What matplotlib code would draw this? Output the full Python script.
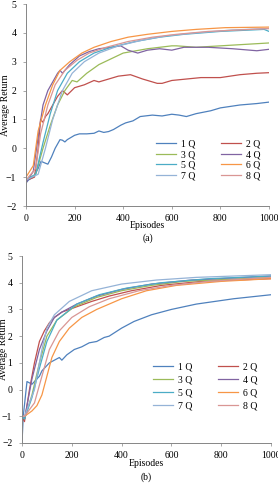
import matplotlib.pyplot as plt

plt.rcParams['font.family'] = ['Liberation Serif', 'DejaVu Serif']

labels = ['1 Q', '2 Q', '3 Q', '4 Q', '5 Q', '6 Q', '7 Q', '8 Q']
colors = ['#4F81BD', '#C0504D', '#9BBB59', '#8064A2', '#4BACC6', '#F79646', '#95B3D7', '#D99694']

# ---- panel (a) ----
a_ep = [
    [0, 10, 30, 50, 62, 75, 90, 105, 120, 140, 150, 160, 170, 180, 200, 220, 250, 280, 300, 320, 340, 360, 390, 410, 440, 470, 520, 560, 600, 630, 660, 700, 760, 800, 880, 950, 1000],
    [0, 20, 35, 50, 60, 70, 80, 90, 110, 130, 150, 170, 200, 240, 280, 300, 340, 380, 430, 480, 540, 560, 600, 660, 720, 800, 880, 950, 1000],
    [0, 40, 70, 100, 130, 160, 190, 210, 250, 300, 350, 400, 500, 600, 620, 700, 800, 900, 1000],
    [0, 15, 30, 50, 70, 90, 110, 130, 140, 150, 180, 220, 260, 300, 350, 390, 420, 460, 500, 550, 600, 650, 750, 850, 950, 1000],
    [0, 40, 70, 100, 130, 170, 220, 280, 350, 450, 550, 650, 800, 980, 1000],
    [0, 30, 50, 80, 110, 140, 180, 230, 280, 350, 420, 500, 600, 700, 800, 820, 1000],
    [0, 50, 80, 110, 150, 190, 240, 300, 380, 480, 580, 700, 850, 1000],
    [0, 40, 60, 90, 120, 160, 210, 260, 330, 420, 520, 620, 750, 1000],
]
a_ret = [
    [-1.2, -1.1, -1.0, -0.7, -0.45, -0.5, -0.55, -0.3, 0.0, 0.3, 0.28, 0.22, 0.3, 0.35, 0.45, 0.5, 0.5, 0.52, 0.6, 0.55, 0.58, 0.65, 0.8, 0.88, 0.95, 1.1, 1.15, 1.12, 1.18, 1.15, 1.1, 1.2, 1.3, 1.4, 1.5, 1.55, 1.6],
    [-1.1, -1.05, -1.0, 0.0, 1.0, 0.9, 1.1, 1.2, 1.5, 1.8, 2.0, 1.85, 2.1, 2.2, 2.35, 2.3, 2.4, 2.5, 2.55, 2.4, 2.25, 2.25, 2.35, 2.4, 2.45, 2.45, 2.55, 2.6, 2.62],
    [-1.1, -0.9, 0.0, 0.8, 1.5, 2.0, 2.35, 2.3, 2.6, 2.9, 3.1, 3.3, 3.45, 3.55, 3.55, 3.5, 3.55, 3.6, 3.65],
    [-1.2, -1.0, -0.8, 0.4, 1.5, 2.0, 2.3, 2.6, 2.7, 2.6, 2.9, 3.2, 3.35, 3.45, 3.5, 3.55, 3.4, 3.3, 3.4, 3.45, 3.4, 3.5, 3.5, 3.45, 3.38, 3.43],
    [-1.1, -0.9, 0.2, 1.2, 2.0, 2.6, 3.0, 3.3, 3.5, 3.7, 3.85, 3.95, 4.05, 4.12, 4.05],
    [-1.0, -0.6, 0.6, 1.5, 2.2, 2.7, 3.0, 3.3, 3.5, 3.7, 3.85, 3.95, 4.05, 4.12, 4.17, 4.18, 4.2],
    [-1.1, -0.9, 0.0, 1.0, 2.0, 2.6, 3.0, 3.3, 3.55, 3.75, 3.9, 4.0, 4.1, 4.15],
    [-1.1, -0.7, 0.5, 1.5, 2.2, 2.7, 3.05, 3.3, 3.5, 3.7, 3.85, 3.95, 4.05, 4.15],
]

# ---- panel (b) ----
b_ep = [
    [0, 5, 20, 40, 50, 70, 80, 100, 110, 130, 150, 160, 180, 210, 240, 270, 300, 330, 350, 400, 450, 520, 600, 700, 850, 1000],
    [0, 10, 30, 50, 70, 90, 110, 130, 160, 220, 280, 350, 440, 560, 720, 1000],
    [0, 10, 40, 70, 100, 140, 210, 300, 400, 520, 650, 1000],
    [0, 10, 40, 70, 100, 130, 160, 220, 300, 400, 520, 680, 1000],
    [0, 10, 40, 70, 100, 140, 220, 310, 420, 560, 750, 1000],
    [0, 10, 40, 60, 80, 100, 120, 150, 190, 240, 300, 400, 500, 620, 800, 1000],
    [0, 10, 50, 80, 100, 130, 190, 280, 400, 540, 700, 1000],
    [0, 10, 50, 80, 110, 150, 200, 270, 350, 470, 600, 750, 1000],
]
b_ret = [
    [-2.0, -1.0, 0.3, 0.2, 0.3, 0.5, 0.7, 0.9, 1.0, 1.1, 1.2, 1.1, 1.3, 1.5, 1.6, 1.75, 1.8, 1.95, 2.0, 2.3, 2.55, 2.8, 3.0, 3.2, 3.4, 3.55],
    [-1.0, -1.2, 0.0, 1.0, 1.8, 2.2, 2.5, 2.7, 2.9, 3.1, 3.3, 3.5, 3.7, 3.9, 4.05, 4.15],
    [-1.0, -1.1, -0.2, 1.0, 2.0, 2.6, 3.1, 3.45, 3.7, 3.9, 4.05, 4.2],
    [-1.0, -1.1, 0.4, 1.5, 2.2, 2.7, 2.9, 3.2, 3.5, 3.75, 3.95, 4.1, 4.25],
    [-1.0, -1.1, -0.3, 0.8, 1.8, 2.6, 3.2, 3.55, 3.8, 4.0, 4.15, 4.25],
    [-1.0, -1.0, -0.8, -0.6, -0.2, 0.5, 1.2, 1.8, 2.3, 2.7, 3.0, 3.4, 3.7, 3.9, 4.05, 4.15],
    [-1.0, -1.0, 0.0, 1.5, 2.3, 2.8, 3.3, 3.7, 3.95, 4.1, 4.2, 4.3],
    [-1.0, -1.0, -0.5, 0.5, 1.5, 2.2, 2.7, 3.1, 3.4, 3.7, 3.9, 4.05, 4.2],
]

fig = plt.figure(figsize=(2.78, 4.83), dpi=100)
W, H = 278, 483
FS = 7

# axes boxes in pixels: left, top, right, bottom
boxes = [(26, 4, 269, 206), (22, 256, 271, 443)]
panels = [(a_ep, a_ret), (b_ep, b_ret)]
legend_anchor = [(0.535, 0.33), (0.525, 0.43)]
legend_spacing = [0.18, 0.42]
captions = [('(a)', 238), ('(b)', 477)]
xlabel_y = [226, 463]
ylabel_x = [6, 4]

# legend filled row by row: 1 Q | 2 Q, 3 Q | 4 Q ...
order = [0, 2, 4, 6, 1, 3, 5, 7]

for i, (box, (eps, rets)) in enumerate(zip(boxes, panels)):
    l, t, r, b = box
    ax = fig.add_axes([l / W, 1 - b / H, (r - l) / W, (b - t) / H])
    lines = []
    for ep, ret, lab, col in zip(eps, rets, labels, colors):
        ln, = ax.plot(ep, ret, color=col, lw=0.9, label=lab)
        lines.append(ln)
    ax.set_xlim(0, 1000)
    ax.set_ylim(-2, 5)
    ax.set_xticks(range(0, 1001, 200))
    ax.set_yticks(range(-2, 6))
    for s in ['top', 'right']:
        ax.spines[s].set_visible(False)
    for s in ['left', 'bottom']:
        ax.spines[s].set_color('#868686')
        ax.spines[s].set_linewidth(0.7)
    ax.tick_params(labelsize=FS, length=2, width=0.5, color='#868686')
    ax.tick_params(axis='y', pad=5)
    ax.tick_params(axis='x', pad=4)
    fig.text(ylabel_x[i] / W, 1 - (t + b) / 2 / H, 'Average Return', fontsize=FS,
             rotation=90, ha='center', va='center')
    fig.text((l + r) / 2 / W, 1 - xlabel_y[i] / H, 'Episodes', fontsize=FS,
             ha='center', va='center')
    fig.text((l + r) / 2 / W, 1 - captions[i][1] / H, captions[i][0], fontsize=FS,
             ha='center', va='center')
    ax.legend([lines[k] for k in order], [labels[k] for k in order],
              ncol=2, frameon=False, fontsize=FS, loc='upper left',
              bbox_to_anchor=legend_anchor[i], handlelength=2.1,
              handletextpad=0.5, columnspacing=2.6,
              labelspacing=legend_spacing[i], borderaxespad=0, borderpad=0)

fig.savefig('out.png', dpi=100)
